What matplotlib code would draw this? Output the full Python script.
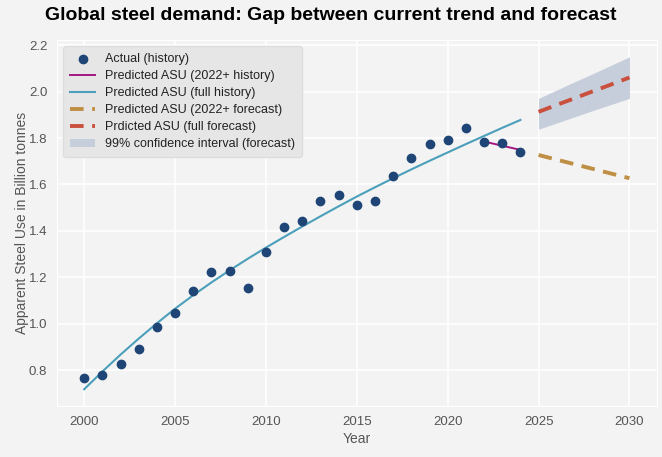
import matplotlib
matplotlib.use("Agg")
import matplotlib.pyplot as plt

plt.rcParams['font.family'] = ['Liberation Sans', 'DejaVu Sans']

# actual apparent steel use (billion tonnes)
years_hist = [2000, 2001, 2002, 2003, 2004, 2005, 2006, 2007, 2008, 2009, 2010, 2011, 2012,
              2013, 2014, 2015, 2016, 2017, 2018, 2019, 2020, 2021, 2022, 2023, 2024]
actual = [0.766, 0.779, 0.826, 0.890, 0.985, 1.045, 1.143, 1.225, 1.229, 1.152, 1.311, 1.415, 1.441,
          1.531, 1.556, 1.511, 1.527, 1.637, 1.715, 1.776, 1.790, 1.843, 1.782, 1.778, 1.742]

# fitted on full history
fit_full = [0.718, 0.794, 0.867, 0.936, 1.002, 1.065, 1.123, 1.178, 1.230, 1.280, 1.328, 1.374, 1.419,
            1.463, 1.506, 1.548, 1.588, 1.627, 1.665, 1.702, 1.738, 1.774, 1.809, 1.844, 1.878]

# fitted on 2022+ only
years_recent = [2022, 2023, 2024]
fit_recent = [1.785, 1.767, 1.749]

# forecasts
years_fc = [2025, 2026, 2027, 2028, 2029, 2030]
fc_recent = [1.727, 1.707, 1.687, 1.667, 1.647, 1.627]
fc_full = [1.913, 1.943, 1.972, 2.002, 2.031, 2.061]
ci_low = [1.838, 1.865, 1.892, 1.919, 1.945, 1.971]
ci_high = [1.971, 2.007, 2.043, 2.078, 2.114, 2.150]

bg = '#f3f3f3'
fig = plt.figure(figsize=(6.62, 4.57), dpi=100, facecolor=bg)
ax = fig.add_axes([0.086, 0.112, 0.906, 0.80])
ax.set_facecolor(bg)

ax.scatter(years_hist, actual, color='#1f4577', s=36, zorder=4, label='Actual (history)')
ax.plot(years_recent, fit_recent, color='#a3187f', lw=1.4, zorder=3, label='Predicted ASU (2022+ history)')
ax.plot(years_hist, fit_full, color='#4b9fba', lw=1.5, zorder=3, label='Predicted ASU (full history)')
ax.plot(years_fc, fc_recent, color='#bf8f45', lw=2.8, ls=(0, (3.5, 2.2)), zorder=3,
        label='Predicted ASU (2022+ forecast)')
ax.plot(years_fc, fc_full, color='#c9503c', lw=2.8, ls=(0, (3.5, 2.2)), zorder=3,
        label='Prdicted ASU (full forecast)')
ax.fill_between(years_fc, ci_low, ci_high, color='#c6cddb', lw=0, zorder=2,
                label='99% confidence interval (forecast)')

ax.grid(True, color='white', lw=1.1)
ax.set_axisbelow(True)
for s in ax.spines.values():
    s.set_color('white')
ax.tick_params(colors='#555555', labelsize=9.5, length=0, pad=7)
ax.set_xticks([2000, 2005, 2010, 2015, 2020, 2025, 2030])

ax.set_xlabel('Year', color='#555555', fontsize=10, labelpad=3)
ax.set_ylabel('Apparent Steel Use in Billion tonnes', color='#555555', fontsize=10, labelpad=0)
fig.suptitle('Global steel demand: Gap between current trend and forecast',
             fontsize=14, fontweight='bold', y=0.985)

leg = ax.legend(loc='upper left', fontsize=9, facecolor='#e6e6e6', edgecolor='#dddddd',
                framealpha=1, borderpad=0.55, labelspacing=0.4, handlelength=2.0)
for t in leg.get_texts():
    t.set_color('#222222')

fig.savefig('out.png', dpi=100, facecolor=bg)
